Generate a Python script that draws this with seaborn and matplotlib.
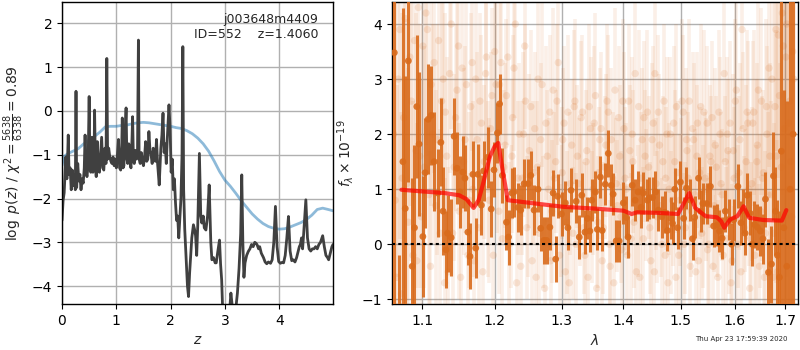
import matplotlib
matplotlib.use("Agg")
import matplotlib.pyplot as plt
from matplotlib.ticker import FixedLocator, FixedFormatter, NullLocator
import seaborn as sns

# ---------------- redshift probability p(z) ----------------
pz_z = [0.00, 0.02, 0.04, 0.06, 0.07, 0.09, 0.10, 0.115, 0.13, 0.15,
        0.17, 0.19, 0.21, 0.23, 0.245, 0.258, 0.27, 0.29, 0.31, 0.33,
        0.35, 0.37, 0.39, 0.41, 0.425, 0.44, 0.46, 0.48, 0.50, 0.515,
        0.53, 0.55, 0.57, 0.59, 0.60, 0.615, 0.63, 0.65, 0.67, 0.69,
        0.71, 0.73, 0.75, 0.77, 0.79, 0.81, 0.825, 0.84, 0.86, 0.88,
        0.90, 0.92, 0.94, 0.96, 0.98, 1.00, 1.02, 1.04, 1.06, 1.08,
        1.10, 1.11, 1.125, 1.14, 1.16, 1.18, 1.195, 1.21, 1.23, 1.25,
        1.27, 1.29, 1.30, 1.315, 1.33, 1.35, 1.37, 1.39, 1.407, 1.42,
        1.44, 1.46, 1.48, 1.50, 1.52, 1.54, 1.56, 1.58, 1.60, 1.62,
        1.64, 1.66, 1.68, 1.70, 1.72, 1.74, 1.76, 1.79, 1.82, 1.84,
        1.86, 1.88, 1.90, 1.92, 1.94, 1.97, 1.99, 2.01, 2.03, 2.05,
        2.07, 2.09, 2.11, 2.13, 2.15, 2.17, 2.19, 2.21, 2.225, 2.24,
        2.26, 2.29, 2.31, 2.33, 2.35, 2.37, 2.39, 2.42, 2.44, 2.46,
        2.48, 2.50, 2.53, 2.555, 2.575, 2.60, 2.62, 2.65, 2.68, 2.71,
        2.74, 2.76, 2.79, 2.82, 2.84, 2.87, 2.90, 2.92, 2.94, 2.96,
        2.98, 3.00, 3.03, 3.06, 3.09, 3.11, 3.13, 3.15, 3.18, 3.21,
        3.23, 3.26, 3.29, 3.31, 3.33, 3.35, 3.37, 3.40, 3.43, 3.46,
        3.49, 3.52, 3.55, 3.57, 3.59, 3.62, 3.64, 3.67, 3.71, 3.74,
        3.77, 3.80, 3.84, 3.87, 3.90, 3.93, 3.96, 3.99, 4.02, 4.05,
        4.08, 4.11, 4.14, 4.17, 4.20, 4.23, 4.26, 4.29, 4.32, 4.35,
        4.37, 4.39, 4.41, 4.43, 4.45, 4.49, 4.52, 4.55, 4.58, 4.61,
        4.64, 4.67, 4.70, 4.73, 4.76, 4.80, 4.83, 4.86, 4.89, 4.91,
        4.94, 4.97, 4.99]
pz_logp = [-2.50, -2.05, -1.87, -1.30, -1.05, -1.55, -1.20, -0.55, -1.45, -1.30,
           -1.80, -1.35, -1.70, -1.45, -1.80, 0.45, -1.75, -1.20, -1.60, -1.45,
           -1.80, -1.55, -1.65, -1.30, -0.55, -1.35, -1.50, -1.25, 0.33, -1.30,
           -1.40, -0.60, -1.40, -1.10, 0.02, -1.25, -1.50, -0.70, -1.25, -1.40,
           -1.00, -0.60, -1.30, -1.35, -0.85, -1.20, 1.20, -1.10, -0.85, -1.05,
           -1.15, -1.20, -1.05, -1.25, -1.10, -1.30, -1.00, -0.65, -1.30, -1.35,
           -0.80, -0.16, -1.30, -1.25, -0.60, 0.07, -1.10, -1.20, -0.75, -1.15,
           -1.30, -0.60, -0.13, -1.10, -1.20, -0.90, -1.10, -1.00, 1.62, -1.10,
           -1.20, -0.95, -1.15, -1.25, -1.05, -0.70, -1.15, -1.10, -0.47, -0.90,
           -1.00, -1.20, -0.85, -1.05, -1.15, -0.65, -1.20, -1.69, -0.85, -0.55,
           -0.05, -0.95, -0.75, -1.20, -0.60, 0.14, -0.40, -1.40, -1.10, -1.80,
           -1.55, -2.10, -2.50, -2.40, -2.90, -2.45, -2.00, -1.00, 1.47, -1.80,
           -2.70, -3.47, -4.00, -4.24, -3.70, -3.30, -2.90, -2.60, -2.70, -2.85,
           -3.30, -2.60, -0.97, -2.40, -2.56, -2.40, -2.67, -2.72, -2.40, -1.69,
           -3.00, -3.40, -3.35, -3.47, -3.47, -3.20, -2.95, -3.50, -3.86, -4.60,
           -4.90, -4.70, -5.00, -4.80, -4.50, -4.16, -4.40, -4.90, -4.70, -4.40,
           -4.16, -3.60, -2.80, -1.46, -3.00, -3.80, -3.47, -3.30, -3.21, -3.15,
           -3.05, -3.10, -3.00, -3.02, -3.05, -3.15, -3.10, -3.25, -3.35, -3.45,
           -3.49, -3.45, -3.48, -3.40, -3.00, -2.18, -3.10, -3.44, -3.48, -3.46,
           -3.47, -3.30, -2.90, -2.41, -3.20, -3.42, -3.40, -3.45, -3.35, -3.20,
           -3.10, -3.05, -2.90, -3.15, -2.80, -2.03, -2.90, -3.15, -3.20, -3.15,
           -3.15, -3.10, -3.15, -3.05, -3.00, -2.85, -3.10, -3.30, -3.35, -3.40,
           -3.25, -3.10, -3.05]

# redshift prior
prior_z = [0.00, 0.03, 0.10, 0.20, 0.30, 0.40, 0.50, 0.60, 0.70, 0.80,
           0.90, 1.00, 1.10, 1.20, 1.30, 1.40, 1.50, 1.60, 1.70, 1.80,
           1.90, 2.00, 2.10, 2.20, 2.30, 2.40, 2.50, 2.60, 2.70, 2.80,
           2.90, 3.00, 3.10, 3.20, 3.30, 3.40, 3.50, 3.60, 3.70, 3.80,
           3.90, 4.00, 4.10, 4.20, 4.30, 4.40, 4.50, 4.60, 4.70, 4.80,
           4.90, 4.99]
prior_logp = [-1.25, -1.05, -0.98, -0.92, -0.86, -0.75, -0.66, -0.58, -0.48, -0.36,
              -0.35, -0.35, -0.33, -0.32, -0.29, -0.27, -0.26, -0.27, -0.29, -0.31,
              -0.33, -0.35, -0.38, -0.40, -0.45, -0.52, -0.62, -0.75, -0.92, -1.14,
              -1.38, -1.58, -1.72, -1.88, -2.05, -2.20, -2.35, -2.47, -2.57, -2.64,
              -2.68, -2.70, -2.69, -2.65, -2.60, -2.55, -2.48, -2.38, -2.25, -2.22,
              -2.25, -2.28]

# ---------------- spectrum: unbinned points, first beam ----------------
faint_wave = [1.063, 1.067, 1.071, 1.074, 1.078, 1.082, 1.086, 1.090, 1.093, 1.097,
              1.101, 1.105, 1.109, 1.112, 1.116, 1.120, 1.124, 1.128, 1.131, 1.135,
              1.139, 1.143, 1.147, 1.150, 1.154, 1.158, 1.162, 1.166, 1.169, 1.173,
              1.177, 1.181, 1.185, 1.188, 1.192, 1.196, 1.200, 1.204, 1.207, 1.211,
              1.215, 1.219, 1.223, 1.226, 1.230, 1.234, 1.238, 1.242, 1.245, 1.249,
              1.253, 1.257, 1.261, 1.264, 1.268, 1.272, 1.276, 1.280, 1.283, 1.287,
              1.291, 1.295, 1.299, 1.302, 1.306, 1.310, 1.314, 1.318, 1.321, 1.325,
              1.329, 1.333, 1.337, 1.340, 1.344, 1.348, 1.352, 1.356, 1.359, 1.363,
              1.367, 1.371, 1.375, 1.378, 1.382, 1.386, 1.390, 1.394, 1.397, 1.401,
              1.405, 1.409, 1.413, 1.416, 1.420, 1.424, 1.428, 1.432, 1.435, 1.439,
              1.443, 1.447, 1.451, 1.454, 1.458, 1.462, 1.466, 1.470, 1.473, 1.477,
              1.481, 1.485, 1.489, 1.492, 1.496, 1.500, 1.504, 1.508, 1.511, 1.515,
              1.519, 1.523, 1.527, 1.530, 1.534, 1.538, 1.542, 1.546, 1.549, 1.553,
              1.557, 1.561, 1.565, 1.568, 1.572, 1.576, 1.580, 1.584, 1.587, 1.591,
              1.595, 1.599, 1.603, 1.606, 1.610, 1.614, 1.618, 1.622, 1.625, 1.629,
              1.633, 1.637, 1.641, 1.644, 1.648, 1.652, 1.656, 1.660, 1.663, 1.667,
              1.671, 1.675, 1.679, 1.682, 1.686, 1.690, 1.694, 1.698, 1.701, 1.705,
              1.709, 1.713, 1.717]
faint_flux = [2.0, -0.6, 3.9, 1.2, 4.1, 0.4, 2.6, 3.7, -0.3, 1.6,
              3.6, 4.2, 0.9, 2.9, 3.3, 1.9, 0.2, 3.0, 2.4, -0.5,
              4.0, 1.4, 2.8, 0.6, 3.2, 1.9, -0.2, 2.5, 1.0, 3.0,
              0.3, 2.2, 1.5, 3.4, 0.8, 2.7, 3.5, 1.6, 2.9, 0.1,
              1.8, 3.4, 0.5, 2.3, 4.0, 1.2, -0.4, 2.0, 2.6, 0.7,
              2.5, 1.3, -0.6, 3.0, 1.9, 0.4, 2.2, 1.0, -0.3, 2.8,
              1.5, 3.3, 0.6, 1.9, -0.5, 2.4, 1.1, 0.2, 2.6, 1.6,
              0.8, 2.4, -0.2, 1.7, 2.5, 0.5, 2.2, -0.8, 1.3, 2.1,
              0.3, 1.8, 2.4, -0.4, 1.2, 2.8, 0.7, 1.6, -0.1, 2.1,
              1.0, 2.6, 0.1, 1.5, 3.1, 0.6, -0.6, 1.9, 2.3, 0.9,
              1.4, -0.3, 2.2, 3.1, 0.5, 1.8, 0.0, 2.6, 1.2, -0.7,
              2.0, 0.8, 1.5, 2.5, -0.2, 1.1, 2.4, 0.3, 1.7, 2.6,
              0.6, 1.9, -0.5, 2.2, 1.3, 0.2, 2.4, 1.0, -0.1, 1.6,
              2.3, 0.7, 1.4, -0.6, 2.0, 0.9, 3.1, 0.1, 1.7, 2.2,
              -0.3, 1.2, 2.8, 0.5, 1.9, 3.9, 0.3, 1.5, 2.2, -0.8,
              1.1, 2.4, 0.4, 1.8, -0.4, 2.6, 1.3, 0.2, 2.0, 3.2,
              0.9, -0.6, 2.5, 1.6, 3.8, 0.4, 4.2, 2.1, 3.4, 1.0,
              2.6, 0.5, 3.0]
faint_err = [4.0, 3.5, 3.8, 3.0, 3.2, 2.8, 2.9, 2.6, 2.5, 2.4,
             2.3, 2.4, 2.1, 2.2, 2.0, 2.1, 1.9, 2.0, 1.8, 1.9,
             1.9, 1.7, 1.8, 1.6, 1.8, 1.7, 1.5, 1.7, 1.6, 1.7,
             1.5, 1.6, 1.4, 1.7, 1.5, 1.6, 1.7, 1.4, 1.6, 1.4,
             1.5, 1.6, 1.3, 1.5, 1.7, 1.4, 1.3, 1.5, 1.4, 1.3,
             1.4, 1.3, 1.2, 1.5, 1.4, 1.2, 1.4, 1.3, 1.2, 1.5,
             1.3, 1.5, 1.2, 1.3, 1.2, 1.4, 1.3, 1.2, 1.5, 1.3,
             1.2, 1.4, 1.2, 1.3, 1.5, 1.2, 1.4, 1.3, 1.2, 1.4,
             1.2, 1.3, 1.4, 1.2, 1.2, 1.5, 1.2, 1.3, 1.2, 1.4,
             1.2, 1.4, 1.2, 1.3, 1.5, 1.2, 1.3, 1.3, 1.4, 1.2,
             1.3, 1.2, 1.4, 1.5, 1.2, 1.3, 1.2, 1.4, 1.3, 1.3,
             1.4, 1.2, 1.3, 1.5, 1.2, 1.2, 1.4, 1.2, 1.3, 1.5,
             1.2, 1.4, 1.3, 1.3, 1.2, 1.2, 1.5, 1.3, 1.3, 1.3,
             1.4, 1.2, 1.3, 1.4, 1.4, 1.2, 1.6, 1.3, 1.3, 1.5,
             1.4, 1.3, 1.6, 1.3, 1.4, 1.8, 1.3, 1.4, 1.5, 1.5,
             1.4, 1.5, 1.4, 1.5, 1.5, 1.7, 1.5, 1.5, 1.6, 1.8,
             1.7, 1.9, 2.0, 2.3, 2.6, 2.9, 3.3, 3.8, 4.5, 5.0,
             5.0, 5.0, 5.0]

# ---------------- spectrum: unbinned points, second beam ----------------
faint2_wave = [1.065, 1.069, 1.073, 1.076, 1.080, 1.084, 1.088, 1.092, 1.095, 1.099,
               1.103, 1.107, 1.111, 1.114, 1.118, 1.122, 1.126, 1.130, 1.133, 1.137,
               1.141, 1.145, 1.149, 1.152, 1.156, 1.160, 1.164, 1.168, 1.171, 1.175,
               1.179, 1.183, 1.187, 1.190, 1.194, 1.198, 1.202, 1.206, 1.209, 1.213,
               1.217, 1.221, 1.225, 1.228, 1.232, 1.236, 1.240, 1.244, 1.247, 1.251,
               1.255, 1.259, 1.263, 1.266, 1.270, 1.274, 1.278, 1.282, 1.285, 1.289,
               1.293, 1.297, 1.301, 1.304, 1.308, 1.312, 1.316, 1.320, 1.323, 1.327,
               1.331, 1.335, 1.339, 1.342, 1.346, 1.350, 1.354, 1.358, 1.361, 1.365,
               1.369, 1.373, 1.377, 1.380, 1.384, 1.388, 1.392, 1.396, 1.399, 1.403,
               1.407, 1.411, 1.415, 1.418, 1.422, 1.426, 1.430, 1.434, 1.437, 1.441,
               1.445, 1.449, 1.453, 1.456, 1.460, 1.464, 1.468, 1.472, 1.475, 1.479,
               1.483, 1.487, 1.491, 1.494, 1.498, 1.502, 1.506, 1.510, 1.513, 1.517,
               1.521, 1.525, 1.529, 1.532, 1.536, 1.540, 1.544, 1.548, 1.551, 1.555,
               1.559, 1.563, 1.567, 1.570, 1.574, 1.578, 1.582, 1.586, 1.589, 1.593,
               1.597, 1.601, 1.605, 1.608, 1.612, 1.616, 1.620, 1.624, 1.627, 1.631,
               1.635, 1.639, 1.643, 1.646, 1.650, 1.654, 1.658, 1.662, 1.665, 1.669,
               1.673, 1.677, 1.681, 1.684, 1.688, 1.692, 1.696, 1.700, 1.703, 1.707,
               1.711, 1.715]
faint2_flux = [0.8, 3.0, -0.9, 2.3, 1.1, 3.4, -0.2, 1.7, 4.3, 0.5,
               1.4, 3.9, -0.4, 2.0, 0.7, 3.7, 2.6, -0.7, 1.6, 3.1,
               0.2, 2.3, 3.6, -0.6, 1.5, 2.9, 0.8, 3.3, -0.3, 1.9,
               2.6, -0.5, 3.1, 1.0, 2.1, -0.2, 2.9, 0.6, 3.3, 1.4,
               2.7, 0.0, 1.6, 3.2, -0.7, 2.0, 1.2, 3.6, 0.3, 1.7,
               -0.3, 2.1, 1.4, 0.2, 2.9, -0.8, 1.6, 2.4, 0.6, 1.2,
               2.6, -0.2, 1.3, 2.2, 0.4, -0.7, 1.8, 2.5, 0.0, 1.1,
               2.3, 0.3, 1.5, -0.6, 2.1, 1.0, 2.7, 0.4, 1.9, -0.3,
               1.4, 2.6, 0.0, 1.9, -0.7, 1.1, 2.3, 0.5, 2.6, 1.2,
               -0.2, 1.7, 2.0, 0.4, -0.5, 2.5, 1.2, 0.1, 1.6, 2.4,
               0.3, 1.9, -0.5, 1.1, 2.4, 0.7, 1.5, -0.2, 2.0, 1.0,
               0.4, 2.2, -0.6, 1.3, 0.8, 2.6, 0.0, 1.9, 1.2, -0.4,
               2.1, 0.9, 1.6, -0.3, 2.5, 0.5, 1.2, 2.2, 0.0, 1.5,
               -0.4, 1.8, 0.6, 2.4, 1.1, -0.2, 1.5, 2.0, 0.4, -0.7,
               1.7, 2.6, 0.0, 1.3, -0.5, 2.1, 0.8, 2.4, 1.0, 0.1,
               2.2, -0.2, 1.5, 2.8, 0.6, 1.2, -0.6, 2.5, 0.9, 1.6,
               3.0, 0.2, 3.9, -0.5, 2.7, 1.4, 3.6, 0.5, 4.0, 2.2,
               1.5, 3.5]
faint2_err = [3.8, 3.6, 3.3, 3.1, 3.0, 2.7, 2.8, 2.5, 2.4, 2.5,
              2.2, 2.3, 2.1, 2.0, 2.1, 1.9, 2.0, 1.9, 1.8, 1.8,
              1.8, 1.7, 1.7, 1.6, 1.7, 1.6, 1.6, 1.6, 1.5, 1.6,
              1.6, 1.5, 1.5, 1.6, 1.4, 1.5, 1.6, 1.5, 1.5, 1.4,
              1.4, 1.5, 1.4, 1.5, 1.4, 1.3, 1.4, 1.5, 1.3, 1.4,
              1.3, 1.4, 1.2, 1.3, 1.5, 1.3, 1.2, 1.4, 1.3, 1.2,
              1.4, 1.3, 1.2, 1.4, 1.3, 1.5, 1.2, 1.4, 1.3, 1.2,
              1.4, 1.2, 1.3, 1.4, 1.3, 1.2, 1.5, 1.2, 1.3, 1.3,
              1.3, 1.4, 1.2, 1.3, 1.4, 1.2, 1.3, 1.2, 1.5, 1.3,
              1.3, 1.2, 1.4, 1.2, 1.3, 1.4, 1.2, 1.3, 1.2, 1.5,
              1.2, 1.4, 1.3, 1.2, 1.4, 1.3, 1.2, 1.3, 1.4, 1.2,
              1.3, 1.4, 1.2, 1.3, 1.2, 1.5, 1.3, 1.3, 1.2, 1.3,
              1.4, 1.2, 1.3, 1.2, 1.5, 1.3, 1.2, 1.4, 1.3, 1.2,
              1.3, 1.4, 1.2, 1.5, 1.3, 1.3, 1.2, 1.4, 1.3, 1.4,
              1.4, 1.5, 1.3, 1.4, 1.5, 1.4, 1.3, 1.5, 1.4, 1.4,
              1.5, 1.4, 1.5, 1.6, 1.4, 1.5, 1.6, 1.6, 1.5, 1.7,
              1.8, 2.0, 2.2, 2.4, 2.8, 3.1, 3.5, 4.0, 4.6, 5.0,
              5.0, 5.0]

# ---------------- spectrum: binned points ----------------
bin_wave = [1.064, 1.070, 1.075, 1.078, 1.082, 1.087, 1.090, 1.093, 1.096, 1.101,
            1.104, 1.108, 1.112, 1.116, 1.121, 1.125, 1.128, 1.132, 1.134, 1.139,
            1.143, 1.147, 1.151, 1.155, 1.158, 1.162, 1.165, 1.169, 1.173, 1.176,
            1.181, 1.184, 1.190, 1.195, 1.199, 1.204, 1.207, 1.211, 1.217, 1.220,
            1.225, 1.228, 1.234, 1.238, 1.243, 1.249, 1.253, 1.258, 1.264, 1.268,
            1.273, 1.277, 1.282, 1.287, 1.291, 1.294, 1.300, 1.306, 1.310, 1.315,
            1.323, 1.328, 1.332, 1.337, 1.341, 1.345, 1.348, 1.354, 1.357, 1.362,
            1.365, 1.370, 1.375, 1.380, 1.383, 1.388, 1.393, 1.400, 1.405, 1.408,
            1.415, 1.420, 1.425, 1.430, 1.434, 1.441, 1.444, 1.450, 1.455, 1.460,
            1.466, 1.471, 1.476, 1.482, 1.485, 1.489, 1.494, 1.499, 1.505, 1.510,
            1.517, 1.521, 1.525, 1.532, 1.536, 1.540, 1.547, 1.554, 1.560, 1.567,
            1.571, 1.576, 1.582, 1.589, 1.594, 1.598, 1.606, 1.612, 1.616, 1.620,
            1.624, 1.630, 1.634, 1.638, 1.644, 1.650, 1.655, 1.660, 1.666, 1.672,
            1.676, 1.680, 1.684, 1.688, 1.692, 1.697, 1.703, 1.710, 1.716]
bin_flux = [3.48, -1.60, 1.50, 0.65, 3.33, -0.40, 0.30, 2.50, 1.82, 0.14,
            1.30, 2.27, 2.34, 1.50, 0.93, 1.85, 0.60, -0.10, 0.20, 0.12,
            1.96, 1.38, 0.95, 1.31, 1.20, 0.22, -0.22, 1.27, -0.07, 1.27,
            0.71, 1.33, 1.58, 0.64, 1.35, 2.02, 2.55, 1.25, 0.40, 0.13,
            0.93, 0.95, 0.67, 0.62, 1.10, 1.10, 1.25, 0.62, 1.00, 0.29,
            0.07, 0.07, 0.31, 0.93, -0.27, 0.87, 0.55, 0.75, 0.30, 0.98,
            0.78, 0.13, 0.89, 0.22, 0.47, 0.24, 0.80, 0.95, 0.27, 1.22,
            0.25, 1.09, 1.65, 1.07, 0.91, 0.06, 0.06, 0.75, 0.49, 0.13,
            1.07, 0.80, 0.95, 0.67, 0.93, 0.80, 0.84, 0.85, 0.95, 0.62,
            0.50, 0.58, 0.25, 0.47, 0.38, 1.00, 0.30, 1.13, 0.47, 1.02,
            0.80, 0.10, 0.49, 1.20, 0.60, 0.74, 0.74, 1.05, 0.33, 0.35,
            0.24, 0.11, 0.60, 0.45, 0.00, 0.44, 1.05, 0.39, 0.61, 0.20,
            0.89, 0.56, 0.00, 0.36, 0.31, 0.24, 0.10, 0.82, -0.51, -0.36,
            1.24, 0.60, -0.20, -0.60, 1.69, 0.30, -0.40, 1.00, 2.00]
bin_err = [5.0, 1.4, 2.8, 2.4, 2.2, 1.6, 1.5, 1.3, 1.3, 1.1,
           1.0, 1.0, 0.9, 0.9, 0.8, 0.8, 0.8, 0.7, 0.7, 0.7,
           0.7, 0.65, 0.65, 0.65, 0.6, 0.6, 0.6, 0.6, 0.55, 0.55,
           0.55, 0.55, 0.55, 0.5, 0.5, 0.55, 0.55, 0.5, 0.5, 0.5,
           0.45, 0.45, 0.45, 0.45, 0.45, 0.45, 0.45, 0.45, 0.42, 0.42,
           0.42, 0.42, 0.42, 0.42, 0.42, 0.4, 0.4, 0.4, 0.4, 0.4,
           0.4, 0.4, 0.4, 0.4, 0.38, 0.38, 0.38, 0.38, 0.38, 0.38,
           0.38, 0.38, 0.42, 0.38, 0.38, 0.38, 0.38, 0.38, 0.38, 0.38,
           0.38, 0.38, 0.38, 0.38, 0.38, 0.38, 0.38, 0.38, 0.38, 0.38,
           0.38, 0.38, 0.38, 0.38, 0.38, 0.38, 0.38, 0.38, 0.38, 0.38,
           0.38, 0.38, 0.38, 0.38, 0.38, 0.38, 0.38, 0.38, 0.38, 0.38,
           0.38, 0.38, 0.38, 0.38, 0.38, 0.38, 0.4, 0.4, 0.4, 0.4,
           0.4, 0.4, 0.4, 0.42, 0.42, 0.45, 0.45, 0.5, 0.6, 0.7,
           0.8, 0.8, 1.0, 1.2, 3.0, 2.5, 3.0, 6.0, 6.0]

# ---------------- best-fit template ----------------
model_wave = [1.073, 1.100, 1.130, 1.150, 1.160, 1.170, 1.177, 1.184, 1.193, 1.200,
              1.205, 1.212, 1.219, 1.260, 1.303, 1.350, 1.400, 1.414, 1.423, 1.460,
              1.495, 1.504, 1.515, 1.526, 1.545, 1.566, 1.574, 1.580, 1.591, 1.605,
              1.617, 1.628, 1.656, 1.693, 1.702]
model_flux = [0.99, 0.96, 0.93, 0.89, 0.82, 0.66, 0.80, 1.13, 1.59, 1.78,
              1.84, 1.30, 0.80, 0.74, 0.68, 0.65, 0.61, 0.55, 0.58, 0.57,
              0.55, 0.72, 0.93, 0.66, 0.51, 0.49, 0.42, 0.30, 0.45, 0.51,
              0.69, 0.48, 0.44, 0.43, 0.62]

wave_ticks = [1.1, 1.2, 1.3, 1.4, 1.5, 1.6, 1.7]
wave_ticklabels = ["1.1", "1.2", "1.3", "1.4", "1.5", "1.6", "1.7"]

root = "j003648m4409"
obj_id = 552
z_best = 1.4060
chi2_num, chi2_den, chi2_red = 5638, 6338, 0.89
stamp = "Thu Apr 23 17:59:39 2020"

# ---------------- figure ----------------
sns.set_style("white")
plt.rcParams["font.family"] = ["DejaVu Sans"]
plt.rcParams["font.size"] = 10
plt.rcParams["axes.edgecolor"] = "black"
plt.rcParams["xtick.bottom"] = True
plt.rcParams["ytick.left"] = True

orange = "#d96b1c"
grid_kw = dict(color="#b0b0b0", lw=1.0)

fig = plt.figure(figsize=(8, 3.5), dpi=100)
ax1 = fig.add_axes([62 / 800, 46 / 350, 271 / 800, 302 / 350])
ax2 = fig.add_axes([392 / 800, 46 / 350, 406 / 800, 302 / 350])

# left: p(z)
sns.lineplot(x=prior_z, y=prior_logp, ax=ax1, color="tab:blue", alpha=0.5,
             lw=2, sort=False, estimator=None)
sns.lineplot(x=pz_z, y=pz_logp, ax=ax1, color="0.25", lw=2,
             sort=False, estimator=None)
ax1.set_xlim(0, 4.99)
ax1.set_ylim(-4.41, 2.49)
ax1.set_xticks([0, 1, 2, 3, 4])
ax1.set_yticks([-4, -3, -2, -1, 0, 1, 2])
ax1.grid(True, **grid_kw)
ax1.set_xlabel(r"$z$")
ax1.set_ylabel(r"$\log\ p(z)$" + " / " +
               r"$\chi^2=\frac{%d}{%d}=%.2f$" % (chi2_num, chi2_den, chi2_red))
ax1.text(0.945, 0.965, "%s\nID=%d    z=%.4f" % (root, obj_id, z_best),
         transform=ax1.transAxes, ha="right", va="top", fontsize=9,
         linespacing=1.2)

# right: spectrum, unbinned beams
for wv, fl, er in ((faint_wave, faint_flux, faint_err),
                   (faint2_wave, faint2_flux, faint2_err)):
    ax2.errorbar(wv, fl, yerr=er, fmt="none", ecolor=orange, alpha=0.1,
                 elinewidth=2.6, zorder=1)
    sns.scatterplot(x=wv, y=fl, ax=ax2, color=orange, alpha=0.15,
                    s=28, edgecolor="none", zorder=1, legend=False)

# binned spectrum
ax2.errorbar(bin_wave, bin_flux, yerr=bin_err, fmt="none",
             ecolor=orange, alpha=0.9, elinewidth=2.2, zorder=3)
sns.scatterplot(x=bin_wave, y=bin_flux, ax=ax2, color=orange, alpha=0.9,
                s=24, edgecolor="none", zorder=3, legend=False)
sns.lineplot(x=model_wave, y=model_flux, ax=ax2, color="red", alpha=0.7,
             lw=3, sort=False, estimator=None, zorder=5)
ax2.axhline(0, color="black", lw=1.5, ls=(0, (1.5, 1.5)), zorder=6)

ax2.set_xscale("log")
ax2.set_xlim(1.061, 1.726)
ax2.set_ylim(-1.085, 4.4)
ax2.xaxis.set_major_locator(FixedLocator(wave_ticks))
ax2.xaxis.set_major_formatter(FixedFormatter(wave_ticklabels))
ax2.xaxis.set_minor_locator(NullLocator())
ax2.set_yticks([-1, 0, 1, 2, 3, 4])
ax2.grid(True, **grid_kw)
ax2.set_xlabel(r"$\lambda$")
ax2.set_ylabel(r"$f_\lambda\times10^{-19}$")

for ax in (ax1, ax2):
    for sp in ax.spines.values():
        sp.set_color("black")
        sp.set_linewidth(1.0)
    ax.tick_params(direction="out", length=3.5, width=0.8, colors="black")

fig.text(0.985, 0.031, stamp, ha="right", va="center", fontsize=5)

fig.savefig("out.png", dpi=100)
